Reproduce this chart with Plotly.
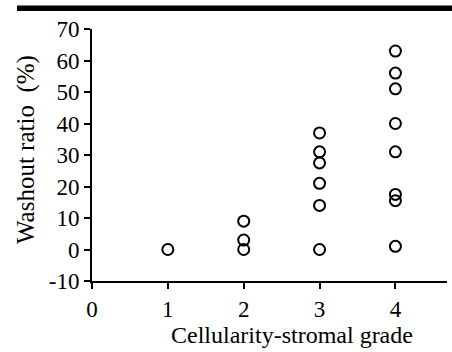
import plotly.graph_objects as go

grades = [1, 2, 2, 2, 3, 3, 3, 3, 3, 3, 4, 4, 4, 4, 4, 4, 4, 4]
washout = [0, 9, 3, 0, 37, 31, 27.5, 21, 14, 0, 63, 56, 51, 40, 31, 17.5, 15.5, 1]
x_ticks = [0, 1, 2, 3, 4]
y_ticks = [-10, 0, 10, 20, 30, 40, 50, 60, 70]
x_title = "Cellularity-stromal grade"
y_title = "Washout ratio\u00a0\u00a0(%)"

W, H = 452, 352
L, R, T, B = 92, 5, 29, 71
FONT = "Liberation Serif"

fig = go.Figure()
fig.add_trace(go.Scatter(
    x=grades, y=washout, mode="markers",
    marker=dict(symbol="circle-open", size=11, color="black", line=dict(width=2, color="black")),
    showlegend=False, cliponaxis=False,
))

fig.update_layout(
    width=W, height=H,
    margin=dict(l=L, r=R, t=T, b=B, pad=0),
    paper_bgcolor="white", plot_bgcolor="white",
    font=dict(family=FONT, size=23, color="black"),
    xaxis=dict(range=[0, 4.68], tickvals=x_ticks, ticktext=[str(v) for v in x_ticks],
               showgrid=False, zeroline=False, showline=True, linecolor="black", linewidth=2,
               ticks="outside", ticklen=6, tickwidth=2, tickcolor="black",
               tickfont=dict(family=FONT, size=23)),
    yaxis=dict(range=[-10, 70], tickvals=y_ticks, ticktext=[str(v) for v in y_ticks],
               showgrid=False, zeroline=False, showline=True, linecolor="black", linewidth=2,
               ticks="outside", ticklen=6, tickwidth=2, tickcolor="black",
               tickfont=dict(family=FONT, size=23)),
)

# top black bar
fig.add_shape(type="rect", xref="paper", yref="paper",
              x0=(17 - L) / (W - L - R), x1=(W + 2 - L) / (W - L - R),
              y0=1 + (T - 11) / (H - T - B), y1=1 + (T - 5.5) / (H - T - B),
              fillcolor="black", line=dict(width=0))

fig.add_annotation(text=x_title, xref="paper", yref="paper",
                   x=(292 - L) / (W - L - R), y=-(335 - (H - B)) / (H - T - B),
                   showarrow=False, xanchor="center", yanchor="middle",
                   font=dict(family=FONT, size=24))
fig.add_annotation(text=y_title, xref="paper", yref="paper",
                   x=(26 - L) / (W - L - R), y=1 - (150 - T) / (H - T - B),
                   showarrow=False, xanchor="center", yanchor="middle", textangle=-90,
                   font=dict(family=FONT, size=25))

fig.write_html("out.html")
